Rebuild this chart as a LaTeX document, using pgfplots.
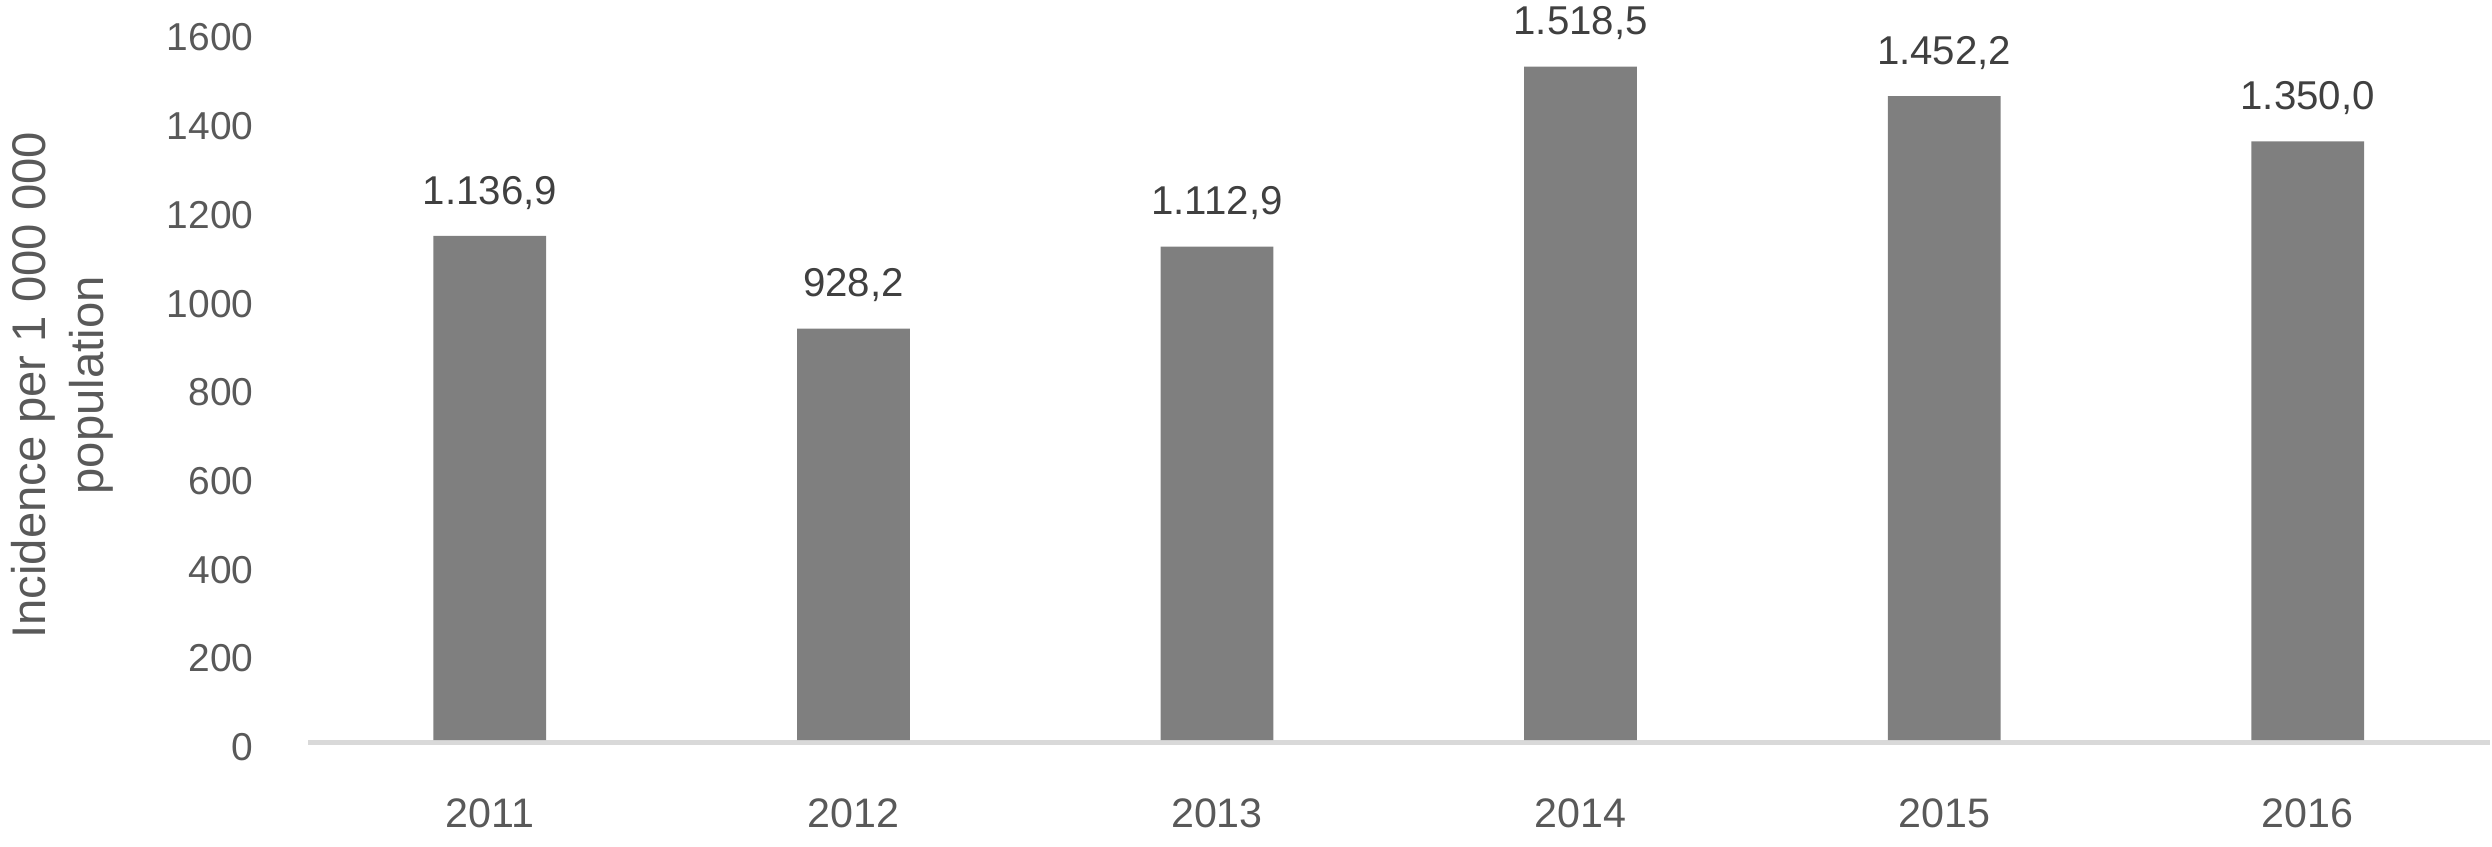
\documentclass[border=0pt]{standalone}
\usepackage{pgfplots}
\pgfplotsset{compat=1.18}
\usepackage{pgfplotstable}
\usepackage{fontspec}
\setmainfont{Liberation Sans}
\definecolor{barcol}{HTML}{7F7F7F}
\definecolor{txtcol}{HTML}{595959}
\definecolor{lblcol}{HTML}{404040}
\definecolor{axcol}{HTML}{D9D9D9}

\pgfplotstableread{
x year value label
0 2011 1136.9 1.136,9
1 2012 928.2 928,2
2 2013 1112.9 1.112,9
3 2014 1518.5 1.518,5
4 2015 1452.2 1.452,2
5 2016 1350.0 1.350,0
}\incidence

\begin{document}
\begin{tikzpicture}
\begin{axis}[
    scale only axis,
    width=656.1pt, height=213.4pt,
    xmin=-0.5, xmax=5.5,
    ymin=0, ymax=1600,
    xtick=data,
    xticklabels={2011,2012,2013,2014,2015,2016},
    ytick={0,200,...,1600},
    /pgf/number format/assume math mode=true,
    /pgf/number format/1000 sep={},
    axis lines*=left,
    axis line style={-},
    y axis line style={draw=none},
    x axis line style={draw=axcol, line width=1.5pt, yshift=-0.75pt},
    major tick length=0pt,
    tick style={draw=none},
    clip=false,
    xticklabel style={font=\fontsize{12.4}{14}\selectfont, color=txtcol, anchor=center, inner sep=0pt, yshift=-21.9pt},
    yticklabel style={font=\fontsize{11.7}{14}\selectfont, color=txtcol, anchor=east, inner sep=0pt, xshift=-16.2pt, yshift=-2.1pt},
    ylabel={Incidence per 1 000 000\\population},
    ylabel style={align=center, font=\fontsize{14.2}{17.4}\selectfont, color=txtcol, anchor=center, at={(axis description cs:-0.1128,0.5)}},
    nodes near coords,
    point meta=explicit symbolic,
    nodes near coords style={font=\fontsize{12.1}{14}\selectfont, color=lblcol, anchor=center, inner sep=0pt, yshift=13pt},
]
\addplot[ybar, bar width=33.9pt, fill=barcol, draw=none] table[x=x, y=value, meta=label] {\incidence};
\end{axis}
\useasboundingbox (-91.5pt,-32.1pt) rectangle (656.1pt,222.6pt);
\end{tikzpicture}
\end{document}
